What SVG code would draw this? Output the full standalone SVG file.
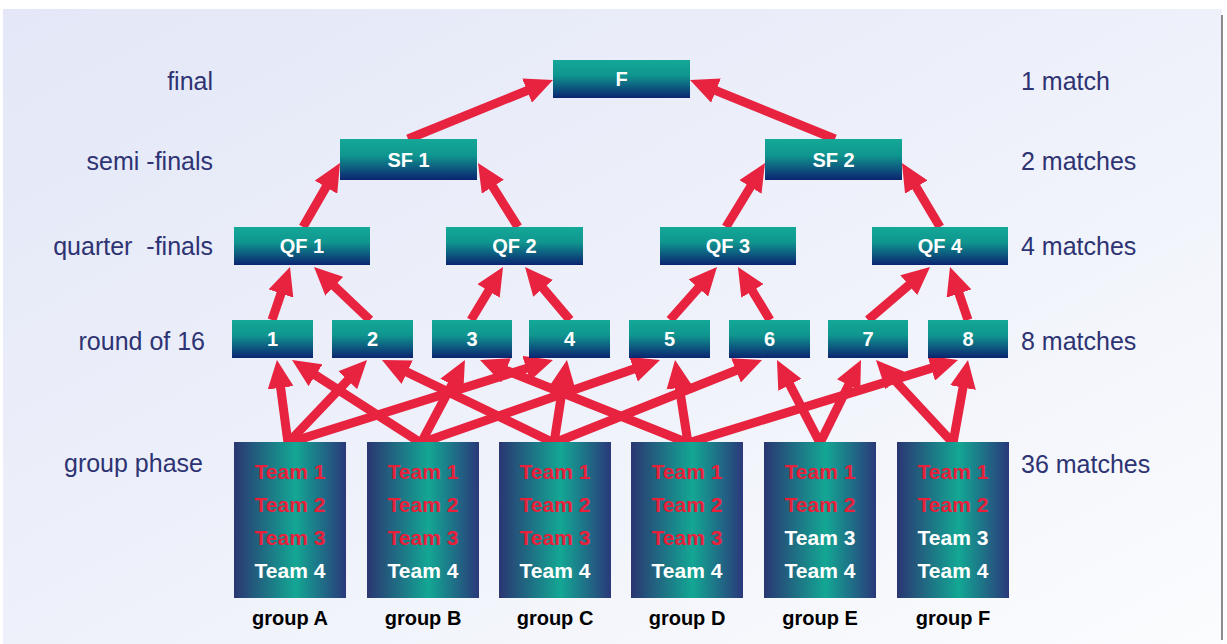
<svg xmlns="http://www.w3.org/2000/svg" width="1227" height="644" viewBox="0 0 1227 644">
<defs>
<linearGradient id="gBg" x1="0" y1="0" x2="1" y2="1">
<stop offset="0" stop-color="#e3e7f7"/>
<stop offset="0.5" stop-color="#eef1fa"/>
<stop offset="1" stop-color="#fbfcfe"/>
</linearGradient>
<linearGradient id="gNode" x1="0" y1="0" x2="0" y2="1">
<stop offset="0" stop-color="#14a897"/>
<stop offset="0.4" stop-color="#0f968f"/>
<stop offset="1" stop-color="#0b2470"/>
</linearGradient>
<linearGradient id="gGrp" x1="0" y1="0" x2="1" y2="0">
<stop offset="0" stop-color="#2a3672"/>
<stop offset="0.55" stop-color="#13a794"/>
<stop offset="1" stop-color="#2a397a"/>
</linearGradient>
<marker id="ah" markerUnits="userSpaceOnUse" markerWidth="28" markerHeight="26" refX="14" refY="13" orient="auto" viewBox="0 0 28 26">
<path d="M0,0 L28,13 L0,26 z" fill="#e8233f"/>
</marker>
<style>
.node rect{fill:url(#gNode)}
.node text{font-family:"Liberation Sans",Arial,sans-serif;font-weight:bold;font-size:20px;fill:#ffffff;text-anchor:middle}
.grp rect{fill:url(#gGrp)}
.grp text{font-family:"Liberation Sans",Arial,sans-serif;font-weight:bold;font-size:21px;text-anchor:middle}
.grp .r{fill:#e8203a}
.grp .w{fill:#ffffff}
.grp .gl{fill:#000000;font-size:20px}
.side{font-family:"Liberation Sans",Arial,sans-serif;font-size:25px;fill:#2e3373}
.lft{text-anchor:end}
#connectors line{stroke:#e8233f;stroke-width:9;marker-end:url(#ah)}
</style>
</defs>
<rect x="3" y="9" width="1219" height="635" fill="url(#gBg)"/>
<line x1="1222" y1="15" x2="1222" y2="640" stroke="#8a8a8a" stroke-width="2"/>

<g id="labels">
<text class="side lft" x="213" y="90">final</text>
<text class="side lft" x="213" y="170">semi -finals</text>
<text class="side lft" x="213" y="255" xml:space="preserve">quarter  -finals</text>
<text class="side lft" x="205" y="350">round of 16</text>
<text class="side lft" x="203" y="472">group phase</text>
<text class="side" x="1021" y="90">1 match</text>
<text class="side" x="1021" y="170">2 matches</text>
<text class="side" x="1021" y="255">4 matches</text>
<text class="side" x="1021" y="350">8 matches</text>
<text class="side" x="1021" y="473">36 matches</text>
</g>

<g id="connectors">
<line x1="288" y1="443" x2="278.8" y2="373.9"/>
<line x1="288" y1="443" x2="357.4" y2="370.1"/>
<line x1="288" y1="443" x2="539.6" y2="364.2"/>
<line x1="421" y1="443" x2="303.8" y2="367.6"/>
<line x1="421" y1="443" x2="458.4" y2="372.4"/>
<line x1="421" y1="443" x2="646.8" y2="364.6"/>
<line x1="554" y1="443" x2="394.6" y2="366.1"/>
<line x1="554" y1="443" x2="564.8" y2="373.8"/>
<line x1="554" y1="443" x2="749" y2="365.2"/>
<line x1="688" y1="443" x2="493" y2="365.2"/>
<line x1="688" y1="443" x2="677.2" y2="373.8"/>
<line x1="688" y1="443" x2="944.6" y2="364.1"/>
<line x1="820" y1="443" x2="783.4" y2="372.4"/>
<line x1="820" y1="443" x2="854.8" y2="372.5"/>
<line x1="953" y1="443" x2="885.5" y2="370.3"/>
<line x1="953" y1="443" x2="965.5" y2="373.8"/>
<line x1="272" y1="320" x2="285.5" y2="280.2"/>
<line x1="370" y1="320" x2="324.2" y2="276.6"/>
<line x1="471" y1="320" x2="495.8" y2="279"/>
<line x1="570" y1="320" x2="534.1" y2="277.7"/>
<line x1="670" y1="320" x2="707.7" y2="277.5"/>
<line x1="770" y1="320" x2="745.2" y2="279"/>
<line x1="868" y1="320" x2="919.4" y2="276.1"/>
<line x1="968" y1="320" x2="954.5" y2="280.2"/>
<line x1="303" y1="227" x2="333" y2="175.1"/>
<line x1="518" y1="227" x2="485.4" y2="174.9"/>
<line x1="726" y1="227" x2="757.7" y2="175"/>
<line x1="940" y1="227" x2="909.1" y2="175"/>
<line x1="408" y1="139" x2="540" y2="85.3"/>
<line x1="835" y1="139" x2="703" y2="85.3"/>
</g>

<g id="F" class="node"><rect x="553" y="60" width="137" height="38"/><text x="621.5" y="86">F</text></g>
<g id="SF1" class="node"><rect x="340" y="139" width="137" height="41"/><text x="408.5" y="167">SF 1</text></g>
<g id="SF2" class="node"><rect x="765" y="139" width="137" height="41"/><text x="833.5" y="167">SF 2</text></g>
<g id="QF1" class="node"><rect x="234" y="227" width="136" height="38"/><text x="302" y="253">QF 1</text></g>
<g id="QF2" class="node"><rect x="446" y="227" width="137" height="38"/><text x="514.5" y="253">QF 2</text></g>
<g id="QF3" class="node"><rect x="660" y="227" width="136" height="38"/><text x="728" y="253">QF 3</text></g>
<g id="QF4" class="node"><rect x="872" y="227" width="136" height="38"/><text x="940" y="253">QF 4</text></g>
<g id="R1" class="node"><rect x="232" y="320" width="81" height="38"/><text x="272.5" y="346">1</text></g>
<g id="R2" class="node"><rect x="332" y="320" width="81" height="38"/><text x="372.5" y="346">2</text></g>
<g id="R3" class="node"><rect x="432" y="320" width="80" height="38"/><text x="472" y="346">3</text></g>
<g id="R4" class="node"><rect x="529" y="320" width="81" height="38"/><text x="569.5" y="346">4</text></g>
<g id="R5" class="node"><rect x="629" y="320" width="81" height="38"/><text x="669.5" y="346">5</text></g>
<g id="R6" class="node"><rect x="729" y="320" width="81" height="38"/><text x="769.5" y="346">6</text></g>
<g id="R7" class="node"><rect x="828" y="320" width="80" height="38"/><text x="868" y="346">7</text></g>
<g id="R8" class="node"><rect x="928" y="320" width="80" height="38"/><text x="968" y="346">8</text></g>

<g id="groupA" class="grp"><rect x="234" y="442" width="112" height="156"/>
<text class="r" x="290" y="479">Team 1</text><text class="r" x="290" y="512">Team 2</text><text class="r" x="290" y="545">Team 3</text><text class="w" x="290" y="578">Team 4</text>
<text class="gl" x="290" y="625">group A</text></g>
<g id="groupB" class="grp"><rect x="367" y="442" width="112" height="156"/>
<text class="r" x="423" y="479">Team 1</text><text class="r" x="423" y="512">Team 2</text><text class="r" x="423" y="545">Team 3</text><text class="w" x="423" y="578">Team 4</text>
<text class="gl" x="423" y="625">group B</text></g>
<g id="groupC" class="grp"><rect x="499" y="442" width="112" height="156"/>
<text class="r" x="555" y="479">Team 1</text><text class="r" x="555" y="512">Team 2</text><text class="r" x="555" y="545">Team 3</text><text class="w" x="555" y="578">Team 4</text>
<text class="gl" x="555" y="625">group C</text></g>
<g id="groupD" class="grp"><rect x="631" y="442" width="112" height="156"/>
<text class="r" x="687" y="479">Team 1</text><text class="r" x="687" y="512">Team 2</text><text class="r" x="687" y="545">Team 3</text><text class="w" x="687" y="578">Team 4</text>
<text class="gl" x="687" y="625">group D</text></g>
<g id="groupE" class="grp"><rect x="764" y="442" width="112" height="156"/>
<text class="r" x="820" y="479">Team 1</text><text class="r" x="820" y="512">Team 2</text><text class="w" x="820" y="545">Team 3</text><text class="w" x="820" y="578">Team 4</text>
<text class="gl" x="820" y="625">group E</text></g>
<g id="groupF" class="grp"><rect x="897" y="442" width="112" height="156"/>
<text class="r" x="953" y="479">Team 1</text><text class="r" x="953" y="512">Team 2</text><text class="w" x="953" y="545">Team 3</text><text class="w" x="953" y="578">Team 4</text>
<text class="gl" x="953" y="625">group F</text></g>
</svg>
